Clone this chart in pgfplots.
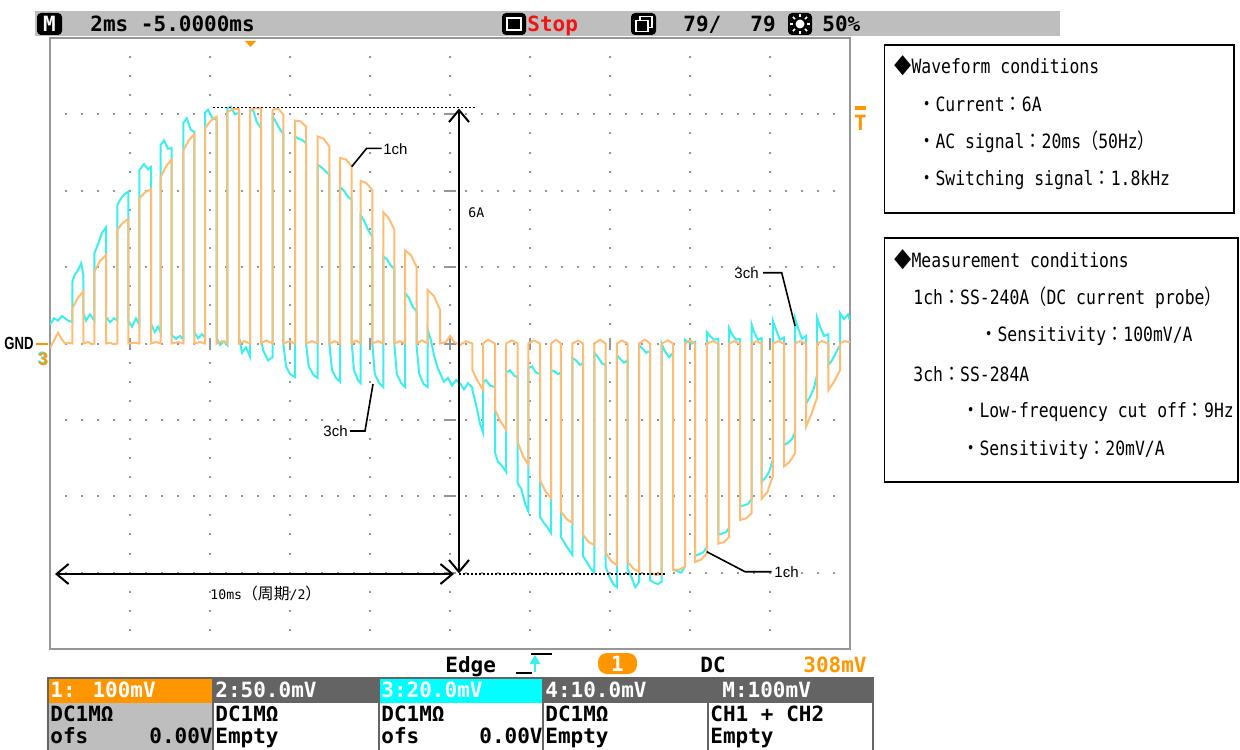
\documentclass[border=0pt]{standalone}
\usepackage{fontspec}
\usepackage{pgfplots}
\pgfplotsset{compat=1.18}
\usetikzlibrary{arrows.meta,calc}
\setmainfont{DejaVu Sans Mono}
\newfontfamily\oscfont{DejaVu Sans Mono}
\newfontfamily\cjk{Noto Sans CJK JP}
\newfontfamily\lsans{Liberation Sans}
\definecolor{orng}{RGB}{255,150,0}
\definecolor{otrace}{RGB}{255,188,115}
\definecolor{ctrace}{RGB}{60,238,238}
\definecolor{cyanfill}{RGB}{0,255,255}
\definecolor{bargray}{RGB}{190,190,190}
\definecolor{darkcell}{RGB}{100,100,100}
\definecolor{gridgray}{RGB}{150,150,150}
\definecolor{stopred}{RGB}{240,20,20}
\newcommand{\bigosc}{\oscfont\bfseries\fontsize{10.5pt}{12pt}\selectfont}
\newcommand{\boxf}{\oscfont\fontsize{8.2pt}{10pt}\selectfont}
\newcommand{\fw}[1]{{\cjk\fontsize{8.6pt}{10pt}\selectfont #1}}
\newcommand{\bx}[1]{\scalebox{1}[1.2]{#1}}
\newcommand{\smf}{\oscfont\fontsize{6.6pt}{8pt}\selectfont}
\newcommand{\fws}[1]{{\cjk\fontsize{7.9pt}{9pt}\selectfont #1}}
\begin{document}
\begin{tikzpicture}
\begin{scope}[x=0.5pt,y=-0.5pt]
% grid
\foreach \yy in {114.375,190.75,267.125,343.5,419.875,496.25,572.625} {
  \draw[gridgray,line width=1pt,dash pattern=on 1pt off 7pt,dash phase=0.5pt] (50,\yy) -- (850,\yy);
  \draw[gridgray,line width=1pt] (444,\yy) -- (456,\yy);}
\foreach \xx in {130,210,290,370,450,530,610,690,770} {
  \draw[gridgray,line width=1pt,dash pattern=on 1pt off 8.547pt,dash phase=0.5pt] (\xx,38) -- (\xx,649);
  \draw[gridgray,line width=1pt] (\xx,337.5) -- (\xx,349.5);}
\end{scope}
\begin{axis}[at={(25pt,-324.5pt)},anchor=south west,scale only axis,
  width=400pt,height=305.5pt,xmin=0,xmax=20,ymin=-4,ymax=4,ticks=none,
  axis line style={gridgray,line width=1pt}]
\addplot[ctrace,line width=1pt] coordinates {
(0,0.25) (0.1,0.33) (0.2,0.30) (0.3,0.36) (0.45,0.30) (0.558,0.28)
(0.558,0.81) (0.62,0.90) (0.70,0.96) (0.78,1.05) (0.833,0.90) (0.833,0.40) (0.9,0.30) (1.0,0.38) (1.108,0.30)
(1.108,1.18) (1.2,1.30) (1.3,1.45) (1.40,1.52) (1.40,0.35) (1.5,0.28) (1.6,0.33) (1.683,0.30)
(1.683,1.81) (1.75,1.88) (1.85,1.95) (1.958,1.99) (1.958,0.30) (2.05,0.22) (2.15,0.33) (2.233,0.25)
(2.233,2.27) (2.35,2.35) (2.45,2.28) (2.525,2.31) (2.525,0.26) (2.62,0.15) (2.7,0.22) (2.768,0.14)
(2.768,2.60) (2.85,2.66) (2.95,2.55) (3.043,2.56) (3.043,0.11) (3.15,0.06) (3.25,0.10) (3.333,0.05)
(3.333,2.89) (3.42,2.95) (3.52,2.80) (3.608,2.77) (3.608,0.15) (3.7,0.07) (3.8,0.12) (3.875,0.08)
(3.875,3.02) (3.95,3.06) (4.06,2.95) (4.168,2.93) (4.168,0.07) (4.25,-0.02) (4.35,0.03) (4.433,-0.02)
(4.433,3.08) (4.52,3.10) (4.62,3.00) (4.725,3.02) (4.725,0.09) (4.8,-0.12) (4.9,-0.05) (5.0,-0.17)
(5.0,3.06) (5.08,3.05) (5.17,2.90) (5.275,2.82) (5.275,0.05) (5.33,-0.09) (5.45,-0.22) (5.568,-0.18)
(5.568,2.97) (5.65,2.90) (5.75,2.80) (5.833,2.75) (5.833,0.0) (5.9,-0.30) (6.0,-0.40) (6.125,-0.44)
(6.125,2.71) (6.22,2.68) (6.32,2.66) (6.40,2.62) (6.40,0.0) (6.47,-0.30) (6.6,-0.42) (6.693,-0.45)
(6.693,2.34) (6.8,2.30) (6.9,2.25) (6.983,2.21) (6.983,0.0) (7.05,-0.35) (7.15,-0.45) (7.25,-0.50)
(7.25,2.05) (7.35,2.00) (7.45,1.92) (7.543,1.88) (7.543,0.0) (7.6,-0.35) (7.7,-0.48) (7.768,-0.52)
(7.768,1.68) (7.86,1.60) (7.96,1.48) (8.058,1.40) (8.058,0.0) (8.12,-0.40) (8.23,-0.52) (8.333,-0.57)
(8.333,1.14) (8.43,1.10) (8.52,1.02) (8.608,0.98) (8.608,0.0) (8.67,-0.40) (8.78,-0.52) (8.875,-0.57)
(8.875,0.66) (8.97,0.60) (9.07,0.48) (9.168,0.42) (9.168,-0.05) (9.23,-0.40) (9.34,-0.53) (9.443,-0.57)
(9.443,0.18) (9.52,0.05) (9.6,-0.15) (9.68,-0.30) (9.75,-0.39) (9.85,-0.50) (9.95,-0.45) (10.05,-0.55) (10.15,-0.48) (10.25,-0.52) (10.35,-0.60) (10.45,-0.52) (10.56,-0.58)
(10.56,-0.61) (10.65,-0.80) (10.75,-1.05) (10.83,-1.17) (10.83,-0.50) (10.9,-0.48) (11.0,-0.55) (11.125,-0.57)
(11.125,-1.43) (11.2,-1.55) (11.3,-1.60) (11.40,-1.68) (11.40,-0.38) (11.5,-0.35) (11.6,-0.42) (11.69,-0.44)
(11.69,-1.83) (11.78,-1.90) (11.88,-2.10) (11.96,-2.20) (11.96,-0.32) (12.05,-0.30) (12.15,-0.38) (12.25,-0.40)
(12.25,-2.27) (12.35,-2.35) (12.45,-2.42) (12.525,-2.48) (12.525,-0.35) (12.6,-0.36) (12.7,-0.40) (12.77,-0.38)
(12.77,-2.53) (12.87,-2.62) (12.97,-2.70) (13.06,-2.77) (13.06,-0.19) (13.15,-0.22) (13.25,-0.28) (13.33,-0.26)
(13.33,-2.79) (13.42,-2.86) (13.52,-2.95) (13.61,-3.00) (13.61,-0.12) (13.7,-0.18) (13.8,-0.26) (13.89,-0.28)
(13.89,-2.92) (13.98,-3.05) (14.08,-3.15) (14.17,-3.19) (14.17,-0.15) (14.25,-0.20) (14.35,-0.25) (14.44,-0.22)
(14.44,-2.96) (14.53,-3.05) (14.63,-3.19) (14.73,-3.12) (14.73,-0.02) (14.8,-0.06) (14.9,-0.12) (15.0,-0.10)
(15.0,-3.10) (15.1,-3.13) (15.2,-3.15) (15.29,-3.12) (15.29,0.0) (15.37,-0.10) (15.48,-0.18) (15.58,-0.12)
(15.58,-2.96) (15.68,-2.98) (15.78,-3.00) (15.875,-2.92) (15.875,0.05) (15.95,0.02) (16.05,0.0) (16.125,0.02)
(16.125,-2.78) (16.22,-2.76) (16.32,-2.74) (16.42,-2.67) (16.42,0.15) (16.5,0.10) (16.6,0.05) (16.71,0.06)
(16.71,-2.50) (16.8,-2.49) (16.9,-2.47) (16.98,-2.41) (16.98,0.20) (17.05,0.12) (17.15,0.05) (17.25,0.06)
(17.25,-2.13) (17.35,-2.12) (17.45,-2.10) (17.54,-2.04) (17.54,0.25) (17.6,0.15) (17.7,0.05) (17.79,0.07)
(17.79,-1.81) (17.88,-1.76) (17.98,-1.68) (18.07,-1.52) (18.07,0.30) (18.15,0.18) (18.25,0.05) (18.35,0.08)
(18.35,-1.33) (18.45,-1.30) (18.55,-1.25) (18.625,-1.16) (18.625,0.33) (18.7,0.20) (18.8,0.06) (18.9,0.10)
(18.9,-0.79) (19.0,-0.70) (19.1,-0.58) (19.18,-0.40) (19.18,0.33) (19.25,0.22) (19.35,0.10) (19.46,0.12)
(19.46,-0.28) (19.55,-0.22) (19.65,-0.12) (19.75,-0.02) (19.75,0.40) (19.85,0.32) (19.95,0.38) (20,0.30)
};
\addplot[otrace,line width=1pt] coordinates {
(0,-0.06) (0.1,0.04) (0.2,0.14) (0.3,0.05) (0.375,0) (0.45,0.01) (0.558,0)
(0.558,0.46) (0.70,0.60) (0.833,0.68) (0.833,0) (0.95,0.02) (1.05,-0.01) (1.108,0)
(1.108,0.94) (1.25,1.08) (1.40,1.16) (1.40,0) (1.5,0.01) (1.6,-0.01) (1.683,0)
(1.683,1.49) (1.82,1.58) (1.958,1.63) (1.958,0) (2.1,0.01) (2.233,0)
(2.233,1.90) (2.38,1.98) (2.525,2.02) (2.525,0) (2.65,0.02) (2.768,0)
(2.768,2.18) (2.9,2.32) (3.043,2.41) (3.043,0) (3.2,0.02) (3.333,0)
(3.333,2.53) (3.47,2.66) (3.608,2.74) (3.608,0) (3.75,0.02) (3.875,0)
(3.875,2.82) (4.02,2.92) (4.168,2.97) (4.168,0) (4.3,0.03) (4.433,0)
(4.433,3.03) (4.58,3.07) (4.725,3.07) (4.725,0) (4.85,0.03) (5.0,0)
(5.0,3.06) (5.14,3.08) (5.275,3.08) (5.275,0) (5.4,0.04) (5.568,0)
(5.568,3.06) (5.70,3.08) (5.833,3.00) (5.833,0) (5.98,0.03) (6.125,0)
(6.125,2.92) (6.26,2.91) (6.40,2.84) (6.40,0) (6.55,0.03) (6.693,0)
(6.693,2.71) (6.84,2.68) (6.983,2.58) (6.983,0) (7.12,0.03) (7.25,0)
(7.25,2.43) (7.40,2.41) (7.543,2.32) (7.543,0) (7.65,0.04) (7.768,0)
(7.768,2.13) (7.91,2.10) (8.058,2.01) (8.058,0) (8.2,0.03) (8.333,0)
(8.333,1.72) (8.47,1.64) (8.608,1.49) (8.608,0) (8.75,0.03) (8.875,0)
(8.875,1.22) (9.02,1.16) (9.168,1.00) (9.168,0) (9.3,0.04) (9.443,0)
(9.443,0.70) (9.6,0.62) (9.75,0.44) (9.75,0) (9.9,0.02) (10.0,0.10) (10.1,0.02) (10.25,-0.02) (10.4,0.03) (10.56,0)
(10.56,-0.35) (10.70,-0.50) (10.83,-0.61) (10.83,0) (10.95,0.05) (11.125,0)
(11.125,-0.87) (11.26,-1.02) (11.40,-1.13) (11.40,0) (11.55,0.04) (11.69,0)
(11.69,-1.29) (11.83,-1.48) (11.96,-1.59) (11.96,0) (12.1,0.04) (12.25,0)
(12.25,-1.79) (12.39,-1.94) (12.525,-2.02) (12.525,0) (12.65,0.05) (12.77,0)
(12.77,-2.20) (12.92,-2.30) (13.06,-2.35) (13.06,0) (13.2,0.04) (13.33,0)
(13.33,-2.51) (13.47,-2.60) (13.61,-2.64) (13.61,0) (13.75,0.05) (13.89,0)
(13.89,-2.74) (14.03,-2.85) (14.17,-2.90) (14.17,0) (14.3,0.04) (14.44,0)
(14.44,-2.86) (14.59,-2.95) (14.73,-2.99) (14.73,0) (14.87,0.05) (15.0,0)
(15.0,-3.00) (15.15,-3.03) (15.29,-3.02) (15.29,0) (15.45,0.04) (15.58,0)
(15.58,-2.96) (15.73,-2.96) (15.875,-2.92) (15.875,0) (16.0,0.04) (16.125,0)
(16.125,-2.86) (16.27,-2.83) (16.42,-2.75) (16.42,0) (16.57,0.03) (16.71,0)
(16.71,-2.62) (16.85,-2.60) (16.98,-2.53) (16.98,0) (17.1,0.03) (17.25,0)
(17.25,-2.31) (17.40,-2.29) (17.54,-2.22) (17.54,0) (17.66,0.03) (17.79,0)
(17.79,-2.03) (17.93,-1.95) (18.07,-1.74) (18.07,0) (18.2,0.03) (18.35,0)
(18.35,-1.61) (18.49,-1.55) (18.625,-1.44) (18.625,0) (18.75,0.03) (18.9,0)
(18.9,-1.09) (19.04,-0.92) (19.18,-0.70) (19.18,0) (19.3,0.03) (19.46,0)
(19.46,-0.61) (19.6,-0.50) (19.75,-0.35) (19.75,0) (19.85,0.03) (20,0.02)
};
\end{axis}
\begin{scope}[x=0.5pt,y=-0.5pt]
% status bar
\fill[bargray] (35,11) rectangle (1060,36);
\fill[black,rounded corners=2pt] (37,13) rectangle (62,35);
\node[white,font=\bigosc,inner sep=0] at (49.5,24) {M};
\node[anchor=base west,inner sep=0,font=\bigosc] at (90,31.5) {2ms -5.0000ms};
\fill[black,rounded corners=2pt] (502,13) rectangle (526,35);
\draw[white,line width=1.2pt] (507,18) rectangle (521,30);
\node[anchor=base west,inner sep=0,font=\bigosc,text=stopred] at (527,31.5) {Stop};
\fill[black,rounded corners=2pt] (631,13) rectangle (656,35);
\draw[white,line width=0.8pt] (640,16.5) rectangle (652,27.5);
\draw[white,line width=0.8pt,fill=black] (636,20.5) rectangle (648,31.5);
\node[anchor=base west,inner sep=0,font=\bigosc] at (683,31.5) {79/};
\node[anchor=base west,inner sep=0,font=\bigosc] at (750,31.5) {79};
\fill[black,rounded corners=2pt] (788,13) rectangle (812,35);
\fill[white] (800,24) circle (4.5);
\foreach \a in {0,45,...,315} \draw[white,line width=0.8pt] ($(800,24)+(\a:7)$) -- ($(800,24)+(\a:10)$);
\node[anchor=base west,inner sep=0,font=\bigosc] at (822,31.5) {50\%};
% markers
\fill[orng] (245,41) -- (256,41) -- (250.5,47) -- cycle;
\draw[orng,line width=1.5pt] (855,108) -- (866,108);
\node[text=orng,font=\bigosc,inner sep=0] at (860.5,123) {T};
\node[anchor=east,inner sep=0,font=\lsans\bfseries\fontsize{8pt}{9pt}\selectfont] at (34,343.5) {\scalebox{0.82}[1.1]{GND}};
\draw[orng,line width=1pt] (36,343.5) -- (48,343.5);
\node[text=ctrace,font=\lsans\bfseries\fontsize{9pt}{10pt}\selectfont,inner sep=0] at (42.5,358) {3};
\node[text=orng,font=\lsans\bfseries\fontsize{9pt}{10pt}\selectfont,inner sep=0] at (43.5,359) {3};
% annotations
\draw[black,line width=0.6pt,dash pattern=on 1pt off 1pt] (213,107.5) -- (475,107.5);
\draw[black,line width=0.6pt,dash pattern=on 1pt off 1pt] (459,574) -- (665,574);
\draw[black,line width=1pt,{Straight Barb[length=6pt,width=10pt]}-{Straight Barb[length=6pt,width=10pt]}] (459,108.5) -- (459,573.5);
\draw[black,line width=1pt,{Straight Barb[length=6pt,width=10pt]}-{Straight Barb[length=6pt,width=10pt]}] (55,574) -- (454,574);
\node[anchor=west,inner sep=0,font=\smf] at (468,213) {6A};
\node[anchor=west,inner sep=0,font=\smf] at (210,593) {10ms\fws{（周期}/2\fws{）}};
\draw[black,line width=0.8pt] (351.7,166.7) -- (366.7,148.3) -- (381.7,148.3);
\node[anchor=west,inner sep=0,font=\lsans\fontsize{7.5pt}{9pt}\selectfont] at (383,149) {1ch};
\draw[black,line width=0.8pt] (373,384) -- (365,431) -- (350,431);
\node[anchor=east,inner sep=0,font=\lsans\fontsize{7.5pt}{9pt}\selectfont] at (348,431) {3ch};
\draw[black,line width=0.8pt] (763,272.7) -- (781.7,272.7) -- (795,326);
\node[anchor=east,inner sep=0,font=\lsans\fontsize{7.5pt}{9pt}\selectfont] at (759,272.7) {3ch};
\draw[black,line width=0.8pt] (706.7,551.7) -- (745,571.7) -- (771.7,571.7);
\node[anchor=west,inner sep=0,font=\lsans\fontsize{7.5pt}{9pt}\selectfont] at (774,572) {1ch};
% trigger line
\node[anchor=base west,inner sep=0,font=\bigosc] at (445,672) {Edge};
\draw[black,line width=1pt] (516,672.5) -- (532,672.5);
\draw[black,line width=1pt] (531,653.5) -- (552,653.5);
\draw[ctrace,line width=1.2pt] (535,672) -- (535,662);
\fill[ctrace] (535,655) -- (529.5,664) -- (540.5,664) -- cycle;
\fill[orng,rounded corners=4.5pt] (598,653) rectangle (637,674);
\node[white,font=\bigosc,inner sep=0] at (617.5,663.5) {1};
\node[anchor=base west,inner sep=0,font=\bigosc] at (700,672) {DC};
\node[anchor=base west,inner sep=0,font=\bigosc,text=orng] at (803,672) {308mV};
% bottom panel
\fill[orng] (48,678) rectangle (213,703);
\fill[darkcell] (213,678) rectangle (379,703);
\fill[cyanfill] (379,678) rectangle (543,703);
\fill[darkcell] (543,678) rectangle (873,703);
\fill[bargray] (48,703) rectangle (213,752);
\draw[darkcell,line width=1pt] (48,678) rectangle (873,752);
\foreach \xx in {213,379,543,708} \draw[darkcell,line width=1pt] (\xx,678) -- (\xx,752);
\node[anchor=base west,inner sep=0,font=\bigosc,text=white] at (50,697) {1: 100mV};
\node[anchor=base west,inner sep=0,font=\bigosc,text=white] at (215,697) {2:50.0mV};
\node[anchor=base west,inner sep=0,font=\bigosc,text=white] at (381,697) {3:20.0mV};
\node[anchor=base west,inner sep=0,font=\bigosc,text=white] at (545,697) {4:10.0mV};
\node[anchor=base west,inner sep=0,font=\bigosc,text=white] at (722,697) {M:100mV};
\node[anchor=base west,inner sep=0,font=\bigosc] at (50,721) {DC1MΩ};
\node[anchor=base west,inner sep=0,font=\bigosc] at (215,721) {DC1MΩ};
\node[anchor=base west,inner sep=0,font=\bigosc] at (381,721) {DC1MΩ};
\node[anchor=base west,inner sep=0,font=\bigosc] at (545,721) {DC1MΩ};
\node[anchor=base west,inner sep=0,font=\bigosc] at (710,721) {CH1 + CH2};
\node[anchor=base west,inner sep=0,font=\bigosc] at (50,743.5) {ofs};
\node[anchor=base east,inner sep=0,font=\bigosc] at (213,743.5) {0.00V};
\node[anchor=base west,inner sep=0,font=\bigosc] at (215,743.5) {Empty};
\node[anchor=base west,inner sep=0,font=\bigosc] at (381,743.5) {ofs};
\node[anchor=base east,inner sep=0,font=\bigosc] at (543,743.5) {0.00V};
\node[anchor=base west,inner sep=0,font=\bigosc] at (545,743.5) {Empty};
\node[anchor=base west,inner sep=0,font=\bigosc] at (710,743.5) {Empty};
% right boxes
\draw[black,line width=0.8pt] (884.5,45) rectangle (1234,213);
\node[anchor=west,inner sep=0,font=\boxf] at (894,66) {\bx{\fw{◆}Waveform conditions}};
\node[anchor=west,inner sep=0,font=\boxf] at (918,104) {\bx{\fw{・}Current\fw{：}6A}};
\node[anchor=west,inner sep=0,font=\boxf] at (918,142) {\bx{\fw{・}AC signal\fw{：}20ms\fw{（}50Hz\fw{）}}};
\node[anchor=west,inner sep=0,font=\boxf] at (918,180) {\bx{\fw{・}Switching signal\fw{：}1.8kHz}};
\draw[black,line width=0.8pt] (884.5,238) rectangle (1238,482);
\node[anchor=west,inner sep=0,font=\boxf] at (894,260) {\bx{\fw{◆}Measurement conditions}};
\node[anchor=west,inner sep=0,font=\boxf] at (913,298) {\bx{1ch\fw{：}SS-240A\fw{（}DC current probe\fw{）}}};
\node[anchor=west,inner sep=0,font=\boxf] at (980,336) {\bx{\fw{・}Sensitivity\fw{：}100mV/A}};
\node[anchor=west,inner sep=0,font=\boxf] at (913,374) {\bx{3ch\fw{：}SS-284A}};
\node[anchor=west,inner sep=0,font=\boxf] at (962,412) {\bx{\fw{・}Low-frequency cut off\fw{：}9Hz}};
\node[anchor=west,inner sep=0,font=\boxf] at (962,450) {\bx{\fw{・}Sensitivity\fw{：}20mV/A}};
\end{scope}
\pgfresetboundingbox
\path[use as bounding box] (0pt,0pt) rectangle (620pt,-374.5pt);
\end{tikzpicture}
\end{document}
